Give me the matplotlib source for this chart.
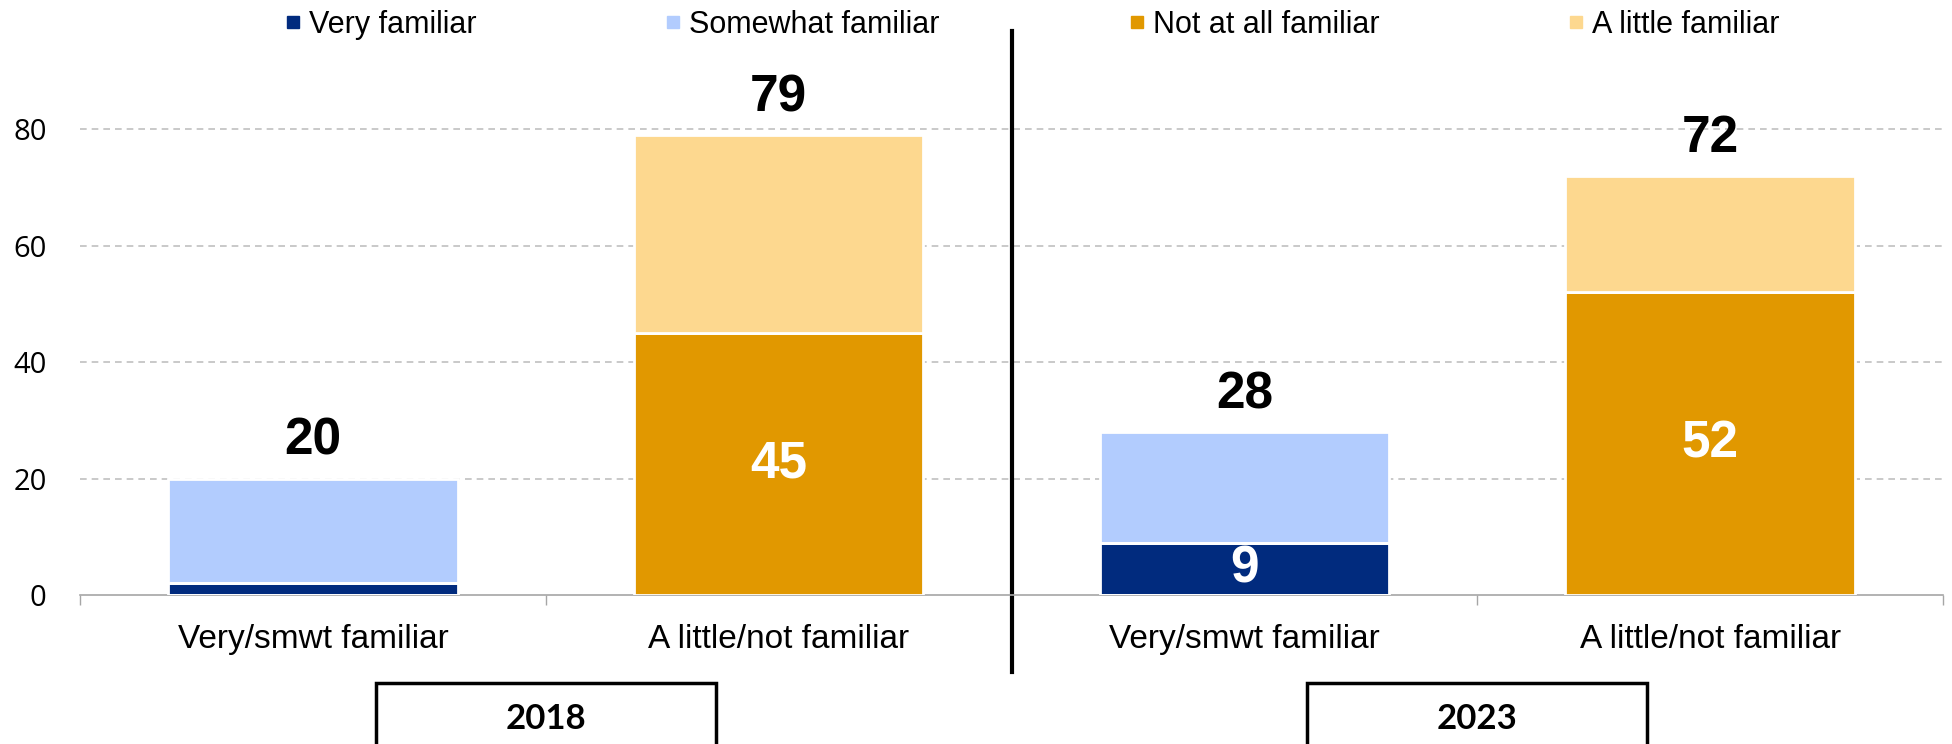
import numpy as np
import matplotlib.pyplot as plt
from matplotlib.lines import Line2D
from matplotlib.patches import Rectangle
from matplotlib.transforms import blended_transform_factory

# data
years = ['2018', '2023']
categories = ['Very/smwt familiar', 'A little/not familiar',
              'Very/smwt familiar', 'A little/not familiar']
very = [2, 0, 9, 0]
somewhat = [18, 0, 19, 0]
not_at_all = [0, 45, 0, 52]
a_little = [0, 34, 0, 20]

c_very = '#012B7E'
c_some = '#B2CCFE'
c_not = '#E19800'
c_little = '#FDD88F'

fig = plt.figure(figsize=(19.52, 7.44), dpi=100)
ax = fig.add_axes([80/1952, 1-595/744, (1943-80)/1952, 90*5.819/744])

x = np.arange(len(categories))
w = 0.622
bottom_vals = np.array(very) + np.array(not_at_all)
ax.bar(x, very, w, color=c_very, edgecolor='white', linewidth=2, zorder=3)
ax.bar(x, not_at_all, w, color=c_not, edgecolor='white', linewidth=2, zorder=3)
ax.bar(x, somewhat, w, bottom=bottom_vals, color=c_some, edgecolor='white', linewidth=2, zorder=3)
ax.bar(x, a_little, w, bottom=bottom_vals, color=c_little, edgecolor='white', linewidth=2, zorder=3)

totals = bottom_vals + np.array(somewhat) + np.array(a_little)
for i in range(len(x)):
    ax.annotate(str(totals[i]), (x[i], totals[i]), xytext=(0, 27), textcoords='offset points',
                ha='center', va='center', fontsize=37, fontweight='bold',
                family='Liberation Sans', color='black', zorder=5)
    if bottom_vals[i] >= 5:
        ax.text(x[i], bottom_vals[i] / 2, str(bottom_vals[i]), ha='center', va='center',
                fontsize=37, fontweight='bold', family='Liberation Sans', color='white', zorder=5)

ax.set_xlim(-0.5, 3.5)
ax.set_ylim(0, 90)
ax.set_yticks([0, 20, 40, 60, 80])
ax.set_yticklabels(['0', '20', '40', '60', '80'], family='Open Sans', fontsize=21)
ax.set_xticks(x)
ax.set_xticklabels(categories, family='Liberation Sans', fontsize=24)
ax.set_xticks([-0.5, 0.5, 1.5, 2.5, 3.5], minor=True)
ax.tick_params(axis='x', which='major', length=0, pad=21)
ax.tick_params(axis='x', which='minor', length=7.5, width=1, color='#A6A6A6')
ax.tick_params(axis='y', length=0, pad=24)

for s in ['top', 'right', 'left']:
    ax.spines[s].set_visible(False)
ax.spines['bottom'].set_color('#A6A6A6')
ax.spines['bottom'].set_linewidth(1.2)

for v in [20, 40, 60, 80]:
    ax.axhline(v, color='#C0C0C0', linewidth=1.2, linestyle=(0, (4, 3)), zorder=1)

# divider between years
tr = blended_transform_factory(ax.transData, fig.transFigure)
ax.add_line(Line2D([1.5, 1.5], [1-31/744, 1-672/744], color='black', linewidth=3,
                   transform=tr, clip_on=False))

# year boxes under the groups
for j, yr in enumerate(years):
    cx = 0.5 + 2 * j
    ax.add_patch(Rectangle((cx - 0.365, -0.02), 0.73, 1-683/744 + 0.02, transform=tr,
                           facecolor='white', edgecolor='black', linewidth=2.5, clip_on=False))
    ax.text(cx, 1-719/744, yr, transform=tr, ha='center', va='center',
            fontsize=25, fontweight='bold', family='Lato')

handles = [Line2D([], [], marker='s', linestyle='none', markersize=8, color=c)
           for c in [c_very, c_some, c_not, c_little]]
labels = ['Very familiar', 'Somewhat familiar', 'Not at all familiar', 'A little familiar']
fig.legend(handles, labels, loc='center left', bbox_to_anchor=(285/1952, 1-25/744),
           ncol=4, frameon=False, prop={'family': 'Liberation Sans', 'size': 22},
           handlelength=0.5, handletextpad=0.27, columnspacing=6.2, borderpad=0, borderaxespad=0)

plt.savefig('out.png', dpi=100)
